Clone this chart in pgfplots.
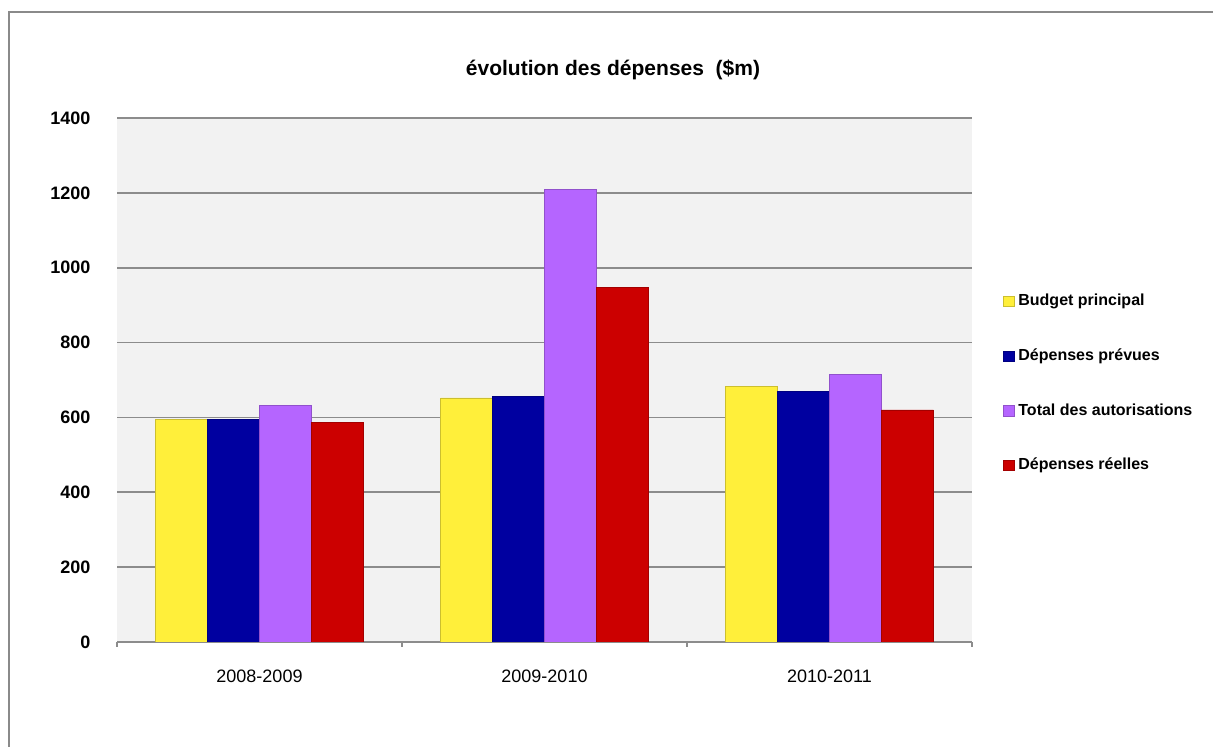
\documentclass[border=0pt]{standalone}
\usepackage{fontspec}
\setmainfont{Liberation Sans}
\usepackage{pgfplots}
\pgfplotsset{compat=1.18}
\definecolor{cYel}{HTML}{FFEF3A}
\definecolor{cBlu}{HTML}{0000A0}
\definecolor{cPur}{HTML}{B565FF}
\definecolor{cRed}{HTML}{CC0000}
\definecolor{bg}{HTML}{F2F2F2}
\definecolor{gridc}{HTML}{8C8C8C}
\definecolor{framec}{HTML}{8A8A8A}
\begin{document}
\begin{tikzpicture}
\useasboundingbox (0pt,0pt) rectangle (606.5pt,373.5pt);
\draw[framec,line width=1.2pt] (4.5pt,0pt) -- (4.5pt,367.5pt) -- (606.5pt,367.5pt);
\node[font=\bfseries\fontsize{10.5}{12}\selectfont] at (306.5pt,338.5pt) {évolution des dépenses\ \ (\$m)};
\begin{axis}[
  at={(58.5pt,52.5pt)}, anchor=south west,
  scale only axis, width=427.5pt, height=262pt,
  xmin=-0.5, xmax=2.5, ymin=0, ymax=1400,
  ytick={0,200,...,1400},
  xtick={0,1,2},
  xticklabels={2008-2009,2009-2010,2010-2011},
  minor xtick={-0.5,0.5,1.5,2.5},
  major x tick style={draw=none},
  major y tick style={draw=none},
  minor x tick style={gridc, line width=0.8pt},
  tick align=outside, xtick pos=bottom, ytick pos=left,
  minor tick length=2.5pt,
  separate axis lines,
  x axis line style={draw=gridc, line width=0.8pt},
  y axis line style={draw=none},
  ymajorgrids, grid style={gridc, line width=0.8pt},
  axis background/.style={fill=bg},
  /pgf/number format/assume math mode=true,
  /pgf/number format/1000 sep={},
  ticklabel style={font=\bfseries\fontsize{9}{10}\selectfont},
  xticklabel style={font=\fontsize{9}{10}\selectfont, yshift=-6pt},
  yticklabel style={xshift=-5.5pt},
  ybar=0pt, bar width=0.182,
  legend style={at={(1.036,0.672)}, anchor=north west, draw=none, fill=none,
    font=\bfseries\fontsize{8}{10}\selectfont, row sep=16pt, inner sep=0pt},
  legend cell align=left,
  legend image code/.code={\fill[#1] (0pt,-2.6pt) rectangle (5.2pt,2.6pt);},
]
\addplot[fill=cYel, draw=cYel!80!black, line width=0.4pt] coordinates {(0,595) (1,652) (2,682)};
\addplot[fill=cBlu, draw=cBlu!80!black, line width=0.4pt] coordinates {(0,594) (1,655) (2,669)};
\addplot[fill=cPur, draw=cPur!80!black, line width=0.4pt] coordinates {(0,633) (1,1208) (2,716)};
\addplot[fill=cRed, draw=cRed!80!black, line width=0.4pt] coordinates {(0,586) (1,948) (2,620)};
\legend{Budget principal, Dépenses prévues, Total des autorisations, Dépenses réelles}
\end{axis}
\end{tikzpicture}
\end{document}
